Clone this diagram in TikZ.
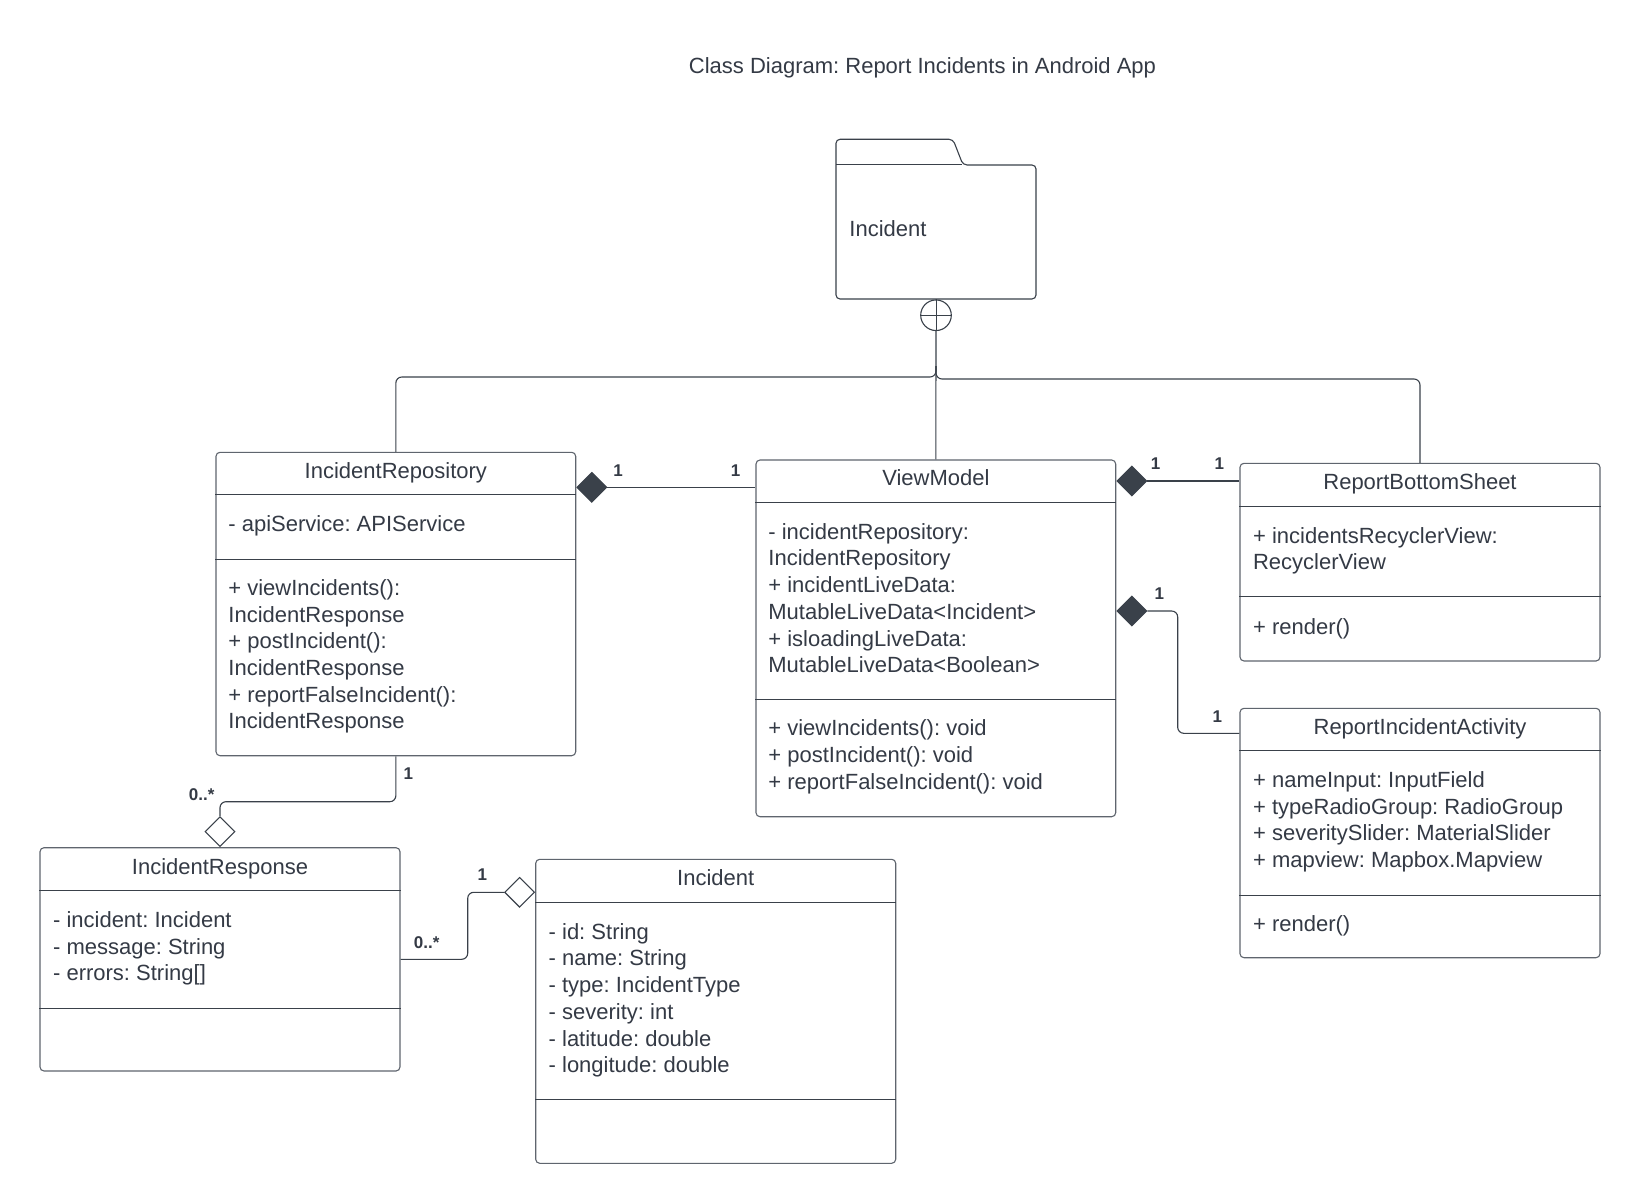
\documentclass[tikz,border=0pt]{standalone}
\usepackage{fontspec}
\setmainfont{Liberation Sans}
\usetikzlibrary{shapes.geometric,fit,calc}
\definecolor{ink}{HTML}{343A45}
\definecolor{edge}{HTML}{3A414A}
\definecolor{frame}{HTML}{5F656E}
\frenchspacing

% one text line per member, stacked at a fixed pitch
\newcommand\memberlines[4]{%
  \foreach \t [count=\k] in {#4}
    \node[member] (#1\k) at (#2, {#3+(\k-1)*26.7}) {\t};}

\begin{document}
\begin{tikzpicture}[x=0.5pt,y=-0.5pt,
  every node/.style={text=ink, font=\fontsize{11}{13.35}\selectfont},
  classframe/.style={draw=frame, line width=0.55pt, rounded corners=2pt, inner sep=0pt},
  divider/.style={draw=edge, line width=0.5pt},
  conn/.style={draw=edge, line width=0.55pt, rounded corners=3pt},
  member/.style={anchor=base west, inner sep=0pt},
  ctitle/.style={anchor=base, inner sep=0pt},
  mult/.style={font=\fontsize{8.5}{10}\selectfont\bfseries, inner sep=0pt},
  filleddiamond/.style={diamond, fill=edge, draw=edge, line width=0.55pt,
    minimum width=15pt, minimum height=15pt, inner sep=0pt},
  opendiamond/.style={diamond, fill=white, draw=edge, line width=0.55pt,
    minimum width=15pt, minimum height=15pt, inner sep=0pt},
]
\fill[white] (0,0) rectangle (1640,1204);
\useasboundingbox (0,0) rectangle (1640,1204);

% heading
\node[ctitle] (title) at (922.5,73.8) {Class Diagram: Report Incidents in Android App};

% package folder
\node[fit={(836,139.3) (1036,299)}, inner sep=0pt] (pkg) {};
\draw[divider, line width=0.55pt, rounded corners=2pt] (836,220) -- (836,139.3) -- (953,139.3)
  -- (963,165) -- (1036,165) -- (1036,299) -- (836,299) -- cycle;
\draw[divider] (836,165) -- (962,165);
\node[member] (pkglabel) at (849,236.5) {Incident};

% nesting symbol
\node[circle, draw=edge, line width=0.55pt, minimum size=15.3pt, inner sep=0pt,
  anchor=north] (nest) at (pkg.south) {};
\draw[divider] (nest.north) -- (nest.south) (nest.west) -- (nest.east);

% class frames
\node[classframe, fit={(216,452.3) (575.7,755.7)}] (ir) {};
\draw[divider] (ir.west |- 0,494) -- (ir.east |- 0,494)
               (ir.west |- 0,559) -- (ir.east |- 0,559);
\node[classframe, fit={(756,460) (1115.7,816.7)}] (vm) {};
\draw[divider] (vm.west |- 0,502.3) -- (vm.east |- 0,502.3)
               (vm.west |- 0,699) -- (vm.east |- 0,699);
\node[classframe, fit={(1240,463.3) (1600,661)}] (rbs) {};
\draw[divider] (rbs.west |- 0,506.7) -- (rbs.east |- 0,506.7)
               (rbs.west |- 0,596.7) -- (rbs.east |- 0,596.7);
\node[classframe, fit={(1240,708.3) (1600,957.7)}] (ria) {};
\draw[divider] (ria.west |- 0,750) -- (ria.east |- 0,750)
               (ria.west |- 0,895) -- (ria.east |- 0,895);
\node[classframe, fit={(40,847.7) (400,1071)}] (iresp) {};
\draw[divider] (iresp.west |- 0,890.7) -- (iresp.east |- 0,890.7)
               (iresp.west |- 0,1008.3) -- (iresp.east |- 0,1008.3);
\node[classframe, fit={(535.7,859.3) (895.7,1163.3)}] (inc) {};
\draw[divider] (inc.west |- 0,902.3) -- (inc.east |- 0,902.3)
               (inc.west |- 0,1099) -- (inc.east |- 0,1099);

% class names
\node[ctitle] (irname) at (ir.north |- 0,478) {IncidentRepository};
\node[ctitle] (vmname) at (vm.north |- 0,485) {ViewModel};
\node[ctitle] (rbsname) at (rbs.north |- 0,489) {ReportBottomSheet};
\node[ctitle] (rianame) at (ria.north |- 0,734.2) {ReportIncidentActivity};
\node[ctitle] (irespname) at (iresp.north |- 0,874.2) {IncidentResponse};
\node[ctitle] (incname) at (inc.north |- 0,885.8) {Incident};

% members
\memberlines{ira}{228}{531.5}{- apiService: APIService}
\memberlines{iro}{228}{595.3}{+ viewIncidents():, IncidentResponse,
  + postIncident():, IncidentResponse, + reportFalseIncident():, IncidentResponse}
\memberlines{vma}{768}{539.2}{- incidentRepository:, IncidentRepository,
  + incidentLiveData:, MutableLiveData<Incident>, + isloadingLiveData:,
  MutableLiveData<Boolean>}
\memberlines{vmo}{768}{735.8}{+ viewIncidents(): void, + postIncident(): void,
  + reportFalseIncident(): void}
\memberlines{rbsa}{1252.7}{543.2}{+ incidentsRecyclerView:, RecyclerView}
\memberlines{rbso}{1252.7}{634.2}{+ render()}
\memberlines{riaa}{1252.7}{787.5}{+ nameInput: InputField,
  + typeRadioGroup: RadioGroup, + severitySlider: MaterialSlider,
  + mapview: Mapbox.Mapview}
\memberlines{riao}{1252.7}{931.8}{+ render()}
\memberlines{irespa}{52.7}{927.5}{- incident: Incident, - message: String,
  - errors: String[]}
\memberlines{inca}{548.3}{939.2}{- id: String, - name: String,
  - type: IncidentType, - severity: int, - latitude: double,
  - longitude: double}

% nesting connectors
\draw[conn] (nest.south) -- (vm.north);
\draw[conn] (nest.south |- 0,366) -- (nest.south |- 0,377) -- (ir.north |- 0,377) -- (ir.north);
\draw[conn] (nest.south |- 0,366) -- (nest.south |- 0,379) -- (rbs.north |- 0,379) -- (rbs.north);

% compositions
\node[filleddiamond, anchor=west] (dRV) at (ir.east |- 0,487.3) {};
\draw[conn] (dRV.east) -- (vm.west |- dRV.east);
\node[mult] (mRV1) at (618,470.7) {1};
\node[mult] (mRV2) at (735.7,470.7) {1};

\node[filleddiamond, anchor=west] (dVB) at (vm.east |- 0,481) {};
\draw[conn] (dVB.east) -- (rbs.west |- dVB.east);
\node[mult] (mVB1) at (1155.7,464) {1};
\node[mult] (mVB2) at (1219.3,464) {1};

\node[filleddiamond, anchor=west] (dVA) at (vm.east |- 0,611) {};
\draw[conn] (dVA.east) -- (1177.7,611) -- (1177.7,733.3) -- (ria.west |- 0,733.3);
\node[mult] (mVA1) at (1159.3,594) {1};
\node[mult] (mVA2) at (1217.3,716.7) {1};

% aggregations
\node[opendiamond, anchor=south] (dRR) at (iresp.north) {};
\draw[conn] (ir.south) -- (ir.south |- 0,801.7) -- (dRR.north |- 0,801.7) -- (dRR.north);
\node[mult] (mRR1) at (408.3,774) {1};
\node[mult] (mRR2) at (201.7,794.3) {0..*};

\node[opendiamond, anchor=east] (dRI) at (inc.west |- 0,892.3) {};
\draw[conn] (iresp.east |- 0,959.3) -- (467.7,959.3) -- (467.7,892.3) -- (dRI.west);
\node[mult] (mRI1) at (426.7,942.7) {0..*};
\node[mult] (mRI2) at (482.3,875) {1};
\end{tikzpicture}
\end{document}
